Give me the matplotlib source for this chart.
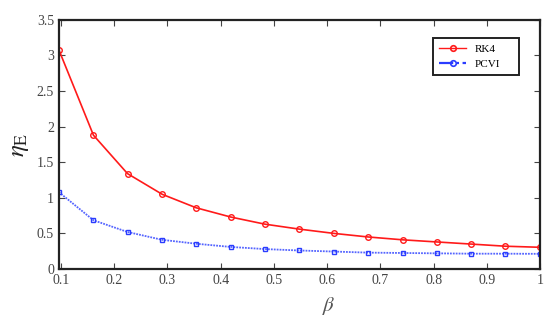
import matplotlib
matplotlib.use("Agg")
import matplotlib.pyplot as plt
from matplotlib.lines import Line2D

plt.rcParams['font.family'] = ['Liberation Serif', 'DejaVu Serif']
plt.rcParams['mathtext.fontset'] = 'stix'

beta = [0.096, 0.161, 0.225, 0.290, 0.354, 0.419, 0.483, 0.548,
        0.613, 0.677, 0.742, 0.806, 0.871, 0.935, 1.0]
rk4 = [3.08, 1.88, 1.34, 1.05, 0.86, 0.73, 0.63, 0.56,
       0.50, 0.45, 0.41, 0.38, 0.35, 0.32, 0.305]
pcvi = [1.08, 0.685, 0.52, 0.41, 0.355, 0.31, 0.28, 0.26,
        0.245, 0.23, 0.225, 0.22, 0.215, 0.215, 0.213]

fig = plt.figure(figsize=(5.5, 3.21), dpi=100)
ax = fig.add_axes([0.107, 0.162, 0.875, 0.776])

ax.plot(beta, rk4, color='#ff1a1a', lw=1.2, marker='o', ms=4,
        mfc='none', mec='#ff1a1a', mew=1.0)
ax.plot(beta, pcvi, color='#5565ff', lw=1.3, ls=(0, (1, 0.6)), marker='s', ms=3.5,
        mfc='none', mec='#2a3cff', mew=1.0)

# legend handles (PCVI shown as dash-dot in the key)
h_rk4 = Line2D([], [], color='#ff1a1a', lw=1.0, marker='o', ms=4,
               mfc='none', mec='#ff1a1a', mew=1.2)
h_pcvi = Line2D([], [], color='#2a3cff', lw=1.6, ls='-.', marker='o', ms=4,
                mfc='none', mec='#2a3cff', mew=1.2)

ax.set_xlim(0.096, 1.0)
ax.set_ylim(0, 3.5)
ax.set_xticks([0.1, 0.2, 0.3, 0.4, 0.5, 0.6, 0.7, 0.8, 0.9, 1.0])
ax.set_xticklabels(['0.1', '0.2', '0.3', '0.4', '0.5', '0.6', '0.7', '0.8', '0.9', '1'])
ax.set_yticks([0, 0.5, 1, 1.5, 2, 2.5, 3, 3.5])
ax.set_yticklabels(['0', '0.5', '1', '1.5', '2', '2.5', '3', '3.5'])
ax.tick_params(direction='in', top=True, right=True, labelsize=10,
               length=4, width=0.8, colors='#444444')
for s in ax.spines.values():
    s.set_linewidth(1.6)
    s.set_color('#222222')

ax.set_xlabel(r'$\beta$', fontsize=15, color='#555555')
ax.xaxis.set_label_coords(0.56, -0.105)
ax.set_ylabel(r'$\eta_{\mathrm{E}}$', fontsize=18, color='#222222')

leg = ax.legend([h_rk4, h_pcvi], ['RK4', 'PCVI'], loc='upper left',
                bbox_to_anchor=(0.778, 0.928, 0.179, 0.0), mode='expand',
                borderaxespad=0, fontsize=8, fancybox=False,
                edgecolor='#222222', framealpha=1, handlelength=2.4,
                handletextpad=0.8, borderpad=0.55, labelspacing=0.45)
leg.get_frame().set_linewidth(1.4)

fig.savefig('out.png', dpi=100)
